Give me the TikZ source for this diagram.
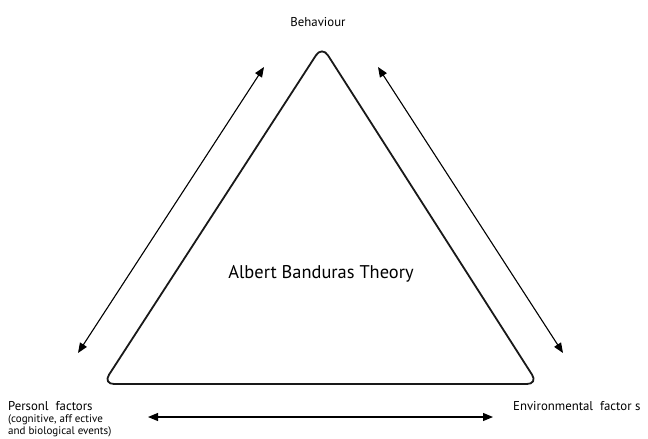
\documentclass[tikz,border=0pt]{standalone}
\usepackage{fontspec}
\setmainfont{PT Sans}
\usetikzlibrary{arrows.meta,calc}
\begin{document}
\begin{tikzpicture}[x=1pt,y=-1pt,
  tri/.style={line width=1.8pt, rounded corners=11pt, color=black!90},
  dbl/.style={line width=1.1pt, {Triangle[length=10pt,width=8pt]}-{Triangle[length=10pt,width=8pt]}},
  lbl/.style={inner sep=0pt, font=\fontsize{12.8}{14}\selectfont}
]
\useasboundingbox (0,0) rectangle (648,439);
% triangle
\coordinate (A) at (322,46);
\coordinate (B) at (103,384);
\coordinate (C) at (538,384);
\draw[tri] ($(A)!0.5!(B)$) -- (A) -- (C) -- (B) -- cycle;
% arrows
\coordinate (l1) at (264,67);
\coordinate (l2) at (78,353);
\coordinate (r1) at (378,67);
\coordinate (r2) at (563,353);
\coordinate (b1) at (148,417);
\coordinate (b2) at (493,417);
\draw[dbl] (l2) -- (l1);
\draw[dbl] (r1) -- (r2);
\draw[dbl] (b1) -- (b2);
% labels
\node[lbl, anchor=base] (beh) at (318,26) {Behaviour};
\node[inner sep=0pt, anchor=base, font=\fontsize{18.4}{20}\selectfont] (title) at (321,278) {Albert Banduras Theory};
\node[lbl, anchor=base west] (pers) at (8,410) {Personl\ \ factors};
\node[inner sep=0pt, anchor=base west, font=\fontsize{11}{12}\selectfont] (persub1) at (8,422) {(cognitive, aff ective};
\node[inner sep=0pt, anchor=base west, font=\fontsize{11}{12}\selectfont] (persub2) at (8,434) {and biological events)};
\node[lbl, anchor=base west] (env) at (513,410) {Environmental\ \ factor s};
\end{tikzpicture}
\end{document}
